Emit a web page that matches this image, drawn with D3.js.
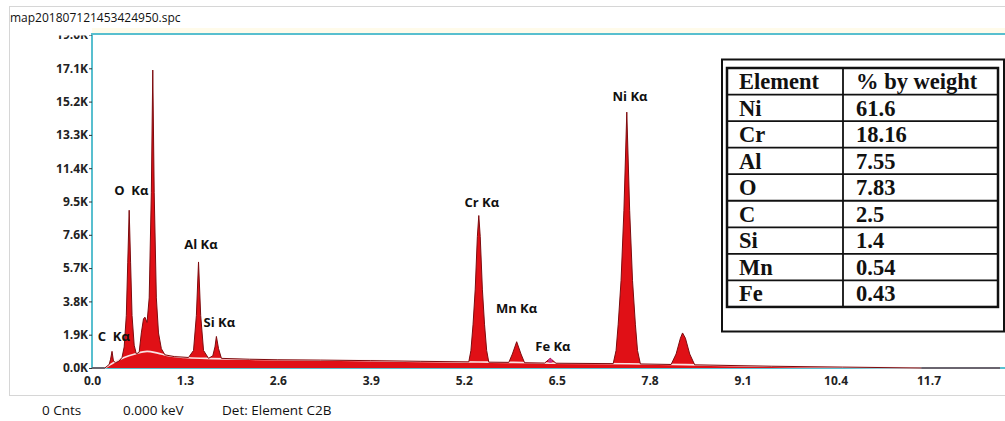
<!DOCTYPE html>
<html>
<head>
<meta charset="utf-8">
<script src="https://cdn.jsdelivr.net/npm/d3@7"></script>
<style>
  body { margin: 0; background: #fff; }
  svg { display: block; font-family: "Open Sans", "DejaVu Sans", sans-serif; }
</style>
</head>
<body>
<svg id="chart" width="1005" height="421"></svg>
<script>
// file / status texts
const fileName = "map201807121453424950.spc";
const statusTexts = ["0 Cnts", "0.000 keV", "Det: Element C2B"];

// axis ticks (keV, kcounts)
const xTicks = [0, 1.3, 2.6, 3.9, 5.2, 6.5, 7.8, 9.1, 10.4, 11.7];
const yTicks = [0, 1.9, 3.8, 5.7, 7.6, 9.5, 11.4, 13.3, 15.2, 17.1, 19.0];

// spectrum: [keV, counts in K]
const spectrum = [
  [0.00, 0], [0.18, 0], [0.24, 0.2], [0.26, 0.5], [0.28, 0.95], [0.30, 0.4],
  [0.33, 0.3], [0.38, 0.4], [0.42, 0.6], [0.45, 1.2], [0.48, 3.0], [0.50, 6.0],
  [0.52, 9.0], [0.54, 6.0], [0.56, 3.0], [0.59, 1.3], [0.62, 0.8], [0.66, 0.9],
  [0.69, 2.0], [0.72, 2.8], [0.74, 2.9], [0.77, 2.6], [0.80, 4.0], [0.83, 10.0],
  [0.85, 17.0], [0.87, 10.0], [0.90, 4.0], [0.93, 2.0], [0.97, 1.1], [1.02, 0.75],
  [1.15, 0.65], [1.35, 0.6], [1.42, 1.0], [1.46, 3.0], [1.49, 6.05], [1.52, 3.0],
  [1.56, 1.0], [1.63, 0.55], [1.69, 0.7], [1.72, 1.2], [1.74, 1.8], [1.77, 1.1],
  [1.81, 0.55], [2.2, 0.5], [2.6, 0.47], [3.2, 0.45], [3.9, 0.42], [4.6, 0.38],
  [5.27, 0.35], [5.30, 1.0], [5.33, 2.5], [5.36, 4.5], [5.39, 7.5], [5.41, 8.7],
  [5.43, 7.5], [5.46, 4.5], [5.49, 2.5], [5.52, 1.0], [5.55, 0.33], [5.83, 0.32],
  [5.88, 0.8], [5.94, 1.5], [6.00, 0.8], [6.05, 0.3], [6.33, 0.28], [6.41, 0.55],
  [6.49, 0.27], [7.29, 0.25], [7.33, 1.0], [7.36, 2.5], [7.40, 5.0], [7.44, 9.0],
  [7.48, 14.6], [7.52, 9.0], [7.56, 5.0], [7.60, 2.5], [7.63, 1.0], [7.67, 0.23],
  [8.10, 0.2], [8.17, 0.8], [8.23, 1.7], [8.26, 2.0], [8.30, 1.7], [8.36, 0.8],
  [8.43, 0.18], [9.5, 0.1], [10.5, 0.05], [11.6, 0.0], [12.7, 0]
];

// fitted background (white line)
const background = [
  [0.18, 0], [0.3, 0.3], [0.45, 0.6], [0.6, 0.8], [0.77, 0.95], [0.92, 0.85],
  [1.05, 0.72], [1.3, 0.6], [1.6, 0.55], [2.2, 0.5], [2.6, 0.47], [3.2, 0.45],
  [3.9, 0.42], [4.6, 0.38], [5.4, 0.34], [5.9, 0.32], [6.4, 0.28], [7.5, 0.24],
  [8.3, 0.19], [9.5, 0.1], [10.5, 0.05], [11.6, 0]
];

// peak labels [text, keV of label start, K of baseline]
const peakLabels = [
  ["C  K\u03b1", 0.08, 1.55],
  ["O  K\u03b1", 0.31, 9.85],
  ["Al K\u03b1", 1.29, 6.8],
  ["Si K\u03b1", 1.56, 2.35],
  ["Cr K\u03b1", 5.21, 9.2],
  ["Mn K\u03b1", 5.65, 3.15],
  ["Fe K\u03b1", 6.2, 0.97],
  ["Ni K\u03b1", 7.28, 15.25]
];

// composition table
const elements = ["Ni", "Cr", "Al", "O", "C", "Si", "Mn", "Fe"];
const weights = ["61.6", "18.16", "7.55", "7.83", "2.5", "1.4", "0.54", "0.43"];

const svg = d3.select("#chart");
const plot = {left: 92, right: 1000, top: 35, bottom: 368};

let x = d3.scaleLinear().domain([0, 12.7]).range([plot.left, plot.right]);
let y = d3.scaleLinear().domain([0, 19]).range([plot.bottom, plot.top]);

// outer window frame
svg.append("rect").attr("x", 9.5).attr("y", 6.5).attr("width", 1010).attr("height", 389)
  .attr("fill", "none").attr("stroke", "#d6d6d6");
svg.append("rect").attr("x", 92).attr("y", 28).attr("width", 920).attr("height", 6)
  .attr("fill", "#fffbea");

svg.append("text").attr("x", 10).attr("y", 22)
  .attr("font-size", 12).attr("fill", "#111").text(fileName);

// cyan plot frame
svg.append("rect")
  .attr("x", plot.left).attr("y", 34).attr("width", 930).attr("height", plot.bottom - 34)
  .attr("fill", "none").attr("stroke", "#58bfcf").attr("stroke-width", 2);

// y axis, top label half hidden by the frame
svg.append("defs").append("clipPath").attr("id", "yclip")
  .append("rect").attr("x", -100).attr("y", 35.5).attr("width", 110).attr("height", 360);

let yAxis = svg.append("g")
  .attr("clip-path", "url(#yclip)")
  .attr("transform", "translate(" + plot.left + ",0)")
  .call(d3.axisLeft(y).tickValues(yTicks).tickSize(3).tickPadding(1)
    .tickFormat(d => d.toFixed(1) + "K"));
yAxis.select(".domain").remove();
yAxis.selectAll("line").attr("stroke", "#333");
yAxis.selectAll("text").attr("font-size", 12).attr("font-weight", 700)
  .attr("fill", "#222").attr("font-family", "Open Sans, sans-serif");

let xAxis = svg.append("g")
  .attr("transform", "translate(0," + plot.bottom + ")")
  .call(d3.axisBottom(x).tickValues(xTicks).tickSize(0).tickPadding(8)
    .tickFormat(d3.format(".1f")));
xAxis.select(".domain").remove();
xAxis.selectAll("text").attr("font-size", 12).attr("font-weight", 700)
  .attr("fill", "#222").attr("font-family", "Open Sans, sans-serif");

// spectrum
let area = d3.area().x(d => x(d[0])).y0(y(0)).y1(d => y(d[1]));
let line = d3.line().x(d => x(d[0])).y(d => y(d[1]));

svg.append("path").datum(spectrum)
  .attr("d", area).attr("fill", "#e01016");
svg.append("path").datum(background)
  .attr("d", line.curve(d3.curveMonotoneX)).attr("fill", "none")
  .attr("stroke", "#fbe3e3").attr("stroke-width", 1.6);
svg.append("path").datum(spectrum)
  .attr("d", line.curve(d3.curveLinear)).attr("fill", "none")
  .attr("stroke", "#7d0b0e").attr("stroke-width", 1);

// Fe bump is magenta-ish
svg.append("circle").attr("cx", x(6.41)).attr("cy", y(0.42)).attr("r", 2.2)
  .attr("fill", "#c8338a");

svg.selectAll("text.peak").data(peakLabels).enter()
  .append("text").attr("class", "peak")
  .attr("x", d => x(d[1])).attr("y", d => y(d[2]))
  .attr("font-size", 13).attr("font-weight", 700).attr("fill", "#111")
  .attr("xml:space", "preserve").style("white-space", "pre")
  .text(d => d[0]);

// composition table
let tbl = svg.append("g").attr("class", "table");
tbl.append("rect").attr("x", 722).attr("y", 59.5).attr("width", 282).attr("height", 272)
  .attr("fill", "#fff").attr("stroke", "#111").attr("stroke-width", 2);

let rowH = 26.55, tTop = 68, tLeft = 727, tRight = 998, colX = 843;
let rows = [["Element", "% by weight"]].concat(elements.map((e, i) => [e, weights[i]]));

tbl.append("rect").attr("x", tLeft).attr("y", tTop)
  .attr("width", tRight - tLeft).attr("height", rowH * rows.length)
  .attr("fill", "none").attr("stroke", "#111").attr("stroke-width", 2.5);
tbl.selectAll("line.row").data(d3.range(1, rows.length)).enter()
  .append("line").attr("class", "row")
  .attr("x1", tLeft).attr("x2", tRight)
  .attr("y1", i => tTop + i * rowH).attr("y2", i => tTop + i * rowH)
  .attr("stroke", "#111").attr("stroke-width", 1.8);
tbl.append("line").attr("x1", colX).attr("x2", colX)
  .attr("y1", tTop).attr("y2", tTop + rowH * rows.length)
  .attr("stroke", "#111").attr("stroke-width", 1.8);

let cells = tbl.selectAll("g.cell").data(rows).enter().append("g").attr("class", "cell");
cells.append("text").attr("x", 739).attr("y", (d, i) => tTop + i * rowH + 21)
  .text(d => d[0]);
cells.append("text").attr("x", 856).attr("y", (d, i) => tTop + i * rowH + 21)
  .text(d => d[1]);
cells.selectAll("text").attr("font-family", "Liberation Serif, Times New Roman, serif")
  .attr("font-weight", 700).attr("font-size", 22.5).attr("fill", "#111");

// status bar
let statusX = [42, 123, 222];
svg.selectAll("text.status").data(statusTexts).enter()
  .append("text").attr("class", "status")
  .attr("x", (d, i) => statusX[i]).attr("y", 415)
  .attr("font-size", 13.5).attr("fill", "#111")
  .text(d => d);
</script>
</body>
</html>
